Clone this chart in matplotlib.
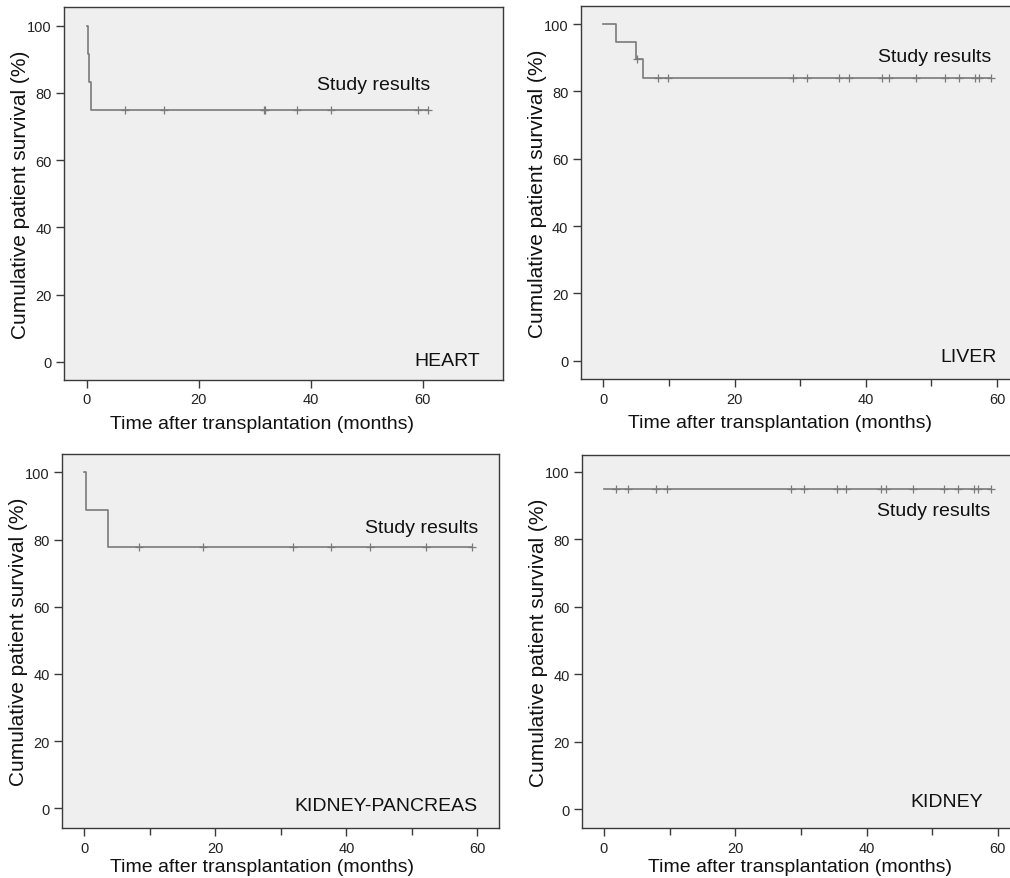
import numpy as np
import matplotlib
matplotlib.use("Agg")
import matplotlib.pyplot as plt

plt.rcParams['font.family'] = ['Liberation Sans', 'DejaVu Sans']

# ---- data ----
panel_names = ["HEART", "LIVER", "KIDNEY-PANCREAS", "KIDNEY"]

heart_event_times = [0.0, 0.2, 0.4, 0.7]
heart_survival = [100.0, 91.7, 83.3, 75.0]
heart_censor_times = [6.9, 13.8, 31.6, 31.9, 37.5, 43.6, 59.1, 61.0]

liver_event_times = [0.0, 1.9, 4.97, 6.0]
liver_survival = [100.0, 94.7, 89.5, 83.9]
liver_censor_times = [5.1, 8.3, 9.9, 28.9, 31.0, 36.0, 37.4, 42.5, 43.5,
                      47.6, 52.1, 54.2, 56.6, 57.3, 59.1]

kp_event_times = [0.0, 0.25, 3.6]
kp_survival = [100.0, 88.9, 77.8]
kp_censor_times = [8.3, 18.1, 31.9, 37.6, 43.6, 52.2, 59.2]

kidney_event_times = [0.0]
kidney_survival = [95.0]
kidney_censor_times = [1.9, 3.6, 7.9, 9.6, 28.5, 30.5, 35.5, 36.9, 42.2, 42.9,
                       47.1, 51.8, 53.9, 56.3, 57.0, 58.9]

study_label = "Study results"
x_label = "Time after transplantation (months)"
y_label = "Cumulative patient survival (%)"
y_ticks = [0, 20, 40, 60, 80, 100]
x_ticks = [0, 20, 40, 60]
x_minor_ticks = [10, 30, 50]

# ---- layout ----
W, H = 1010, 879
fig = plt.figure(figsize=(W / 100, H / 100), dpi=100)


def px_axes(l, r, t, b):
    return fig.add_axes([l / W, 1 - b / H, (r - l) / W, (b - t) / H])


LINE_C = '#7a7a7a'
BG = '#efefef'
SPINE_C = '#3a3a3a'
FS = 14

panels = [
    dict(box=(64, 503, 8, 381), xlim=(-4.05, 74.3), ylim=(-5.45, 105.6),
         t=heart_event_times, s=heart_survival, c=heart_censor_times, xlab_x=0.451, xpad=6,
         name=panel_names[0], study_xy=(61.3, 82.6), name_xy=(70.2, 0.5), minor=False),
    dict(box=(581, 1018.6, 7.3, 380), xlim=(-3.4, 63.3), ylim=(-5.4, 105.3),
         t=liver_event_times, s=liver_survival, c=liver_censor_times, xlab_x=0.455, xpad=6,
         name=panel_names[1], study_xy=(59.1, 90.5), name_xy=(60.0, 1.3), minor=True),
    dict(box=(62.3, 499, 455, 829.3), xlim=(-3.36, 63.3), ylim=(-6.0, 105.5),
         t=kp_event_times, s=kp_survival, c=kp_censor_times, xlab_x=0.457, xpad=2.5,
         name=panel_names[2], study_xy=(60.1, 83.6), name_xy=(60.0, 0.7), minor=True),
    dict(box=(582.3, 1019.5, 456, 829.3), xlim=(-3.3, 63.3), ylim=(-5.6, 105.0),
         t=kidney_event_times, s=kidney_survival, c=kidney_censor_times, xlab_x=0.498, xpad=2.5,
         name=panel_names[3], study_xy=(58.9, 88.5), name_xy=(57.7, 2.2), minor=True),
]

for p in panels:
    ax = px_axes(*p['box'])
    ax.set_facecolor(BG)
    t = np.array(p['t'])
    s = np.array(p['s'])
    c = np.array(p['c'])
    t_end = max(c.max(), t.max())
    tt = np.append(t, t_end)
    ss = np.append(s, s[-1])
    ax.step(tt, ss, where='post', color=LINE_C, lw=1.2, zorder=3)
    idx = np.searchsorted(t, c, side='right') - 1
    ax.plot(c, s[idx], linestyle='none', marker='+', markersize=5.5,
            markeredgewidth=0.9, color=LINE_C, zorder=4)

    ax.set_xlim(*p['xlim'])
    ax.set_ylim(*p['ylim'])
    ax.set_xticks(x_ticks)
    ax.set_yticks(y_ticks)
    if p['minor']:
        ax.set_xticks(x_minor_ticks, minor=True)
        ax.tick_params(axis='x', which='minor', length=5, width=1.0, color=SPINE_C)
    ax.tick_params(axis='both', which='major', length=6, width=1.0, color=SPINE_C,
                   labelsize=10.5, labelcolor='#222222', pad=3)
    for sp in ax.spines.values():
        sp.set_color(SPINE_C)
        sp.set_linewidth(1.0)
    ax.set_xlabel(x_label, fontsize=FS, color='#111111', labelpad=p['xpad'])
    ax.xaxis.label.set_x(p['xlab_x'])
    ax.set_ylabel(y_label, fontsize=15, color='#111111', labelpad=-2)
    ax.text(p['study_xy'][0], p['study_xy'][1], study_label, ha='right', va='center',
            fontsize=FS, color='#111111')
    ax.text(p['name_xy'][0], p['name_xy'][1], p['name'], ha='right', va='center',
            fontsize=FS, color='#111111')

fig.savefig('out.png', dpi=100)
